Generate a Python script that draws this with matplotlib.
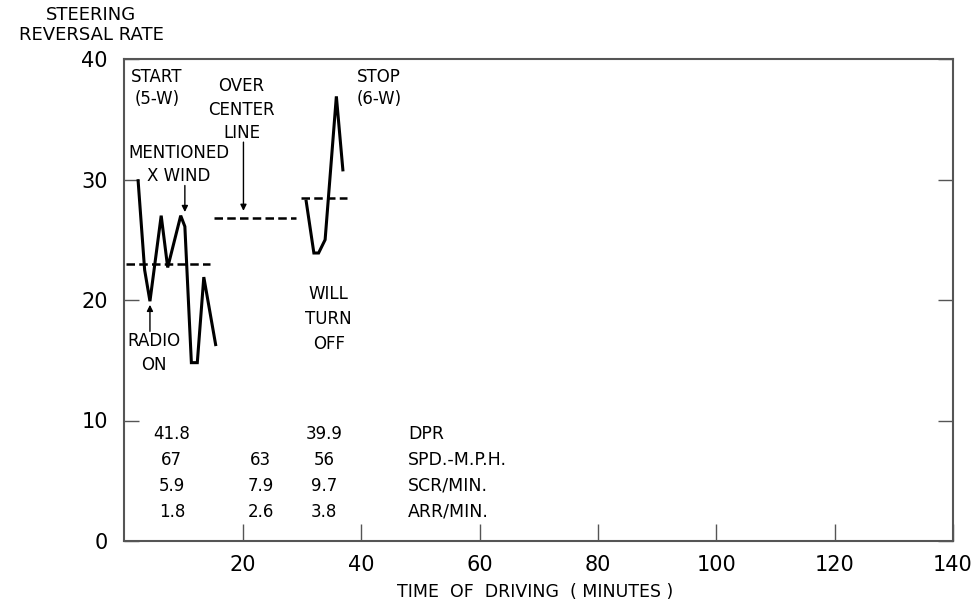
import matplotlib
matplotlib.use("Agg")
import matplotlib.pyplot as plt

# steering reversal rate, three driving segments
seg1_x = [2.3, 3.4, 4.3, 6.2, 7.3, 9.5, 10.2, 11.3, 12.3, 13.4, 15.4]
seg1_y = [29.9, 22.5, 19.9, 27.0, 22.7, 27.0, 26.1, 14.8, 14.8, 21.9, 16.3]
seg3_x = [30.7, 32.0, 32.8, 33.9, 35.8, 36.9]
seg3_y = [28.2, 23.9, 23.9, 25.0, 36.9, 30.8]

# segment means (dashed)
mean_x = [[0.3, 14.4], [15.1, 29.0], [29.8, 37.6]]
mean_y = [23.0, 26.8, 28.5]

# table under the curves
table_cols = [8.0, 23.0, 33.7]
table_rows = ["DPR", "SPD.-M.P.H.", "SCR/MIN.", "ARR/MIN."]
table_vals = [["41.8", "", "39.9"],
              ["67", "63", "56"],
              ["5.9", "7.9", "9.7"],
              ["1.8", "2.6", "3.8"]]
table_y = [8.9, 6.75, 4.57, 2.41]

xticks = [20, 40, 60, 80, 100, 120, 140]
xtick_labels = ["20", "40", "60", "80", "100", "120", "140"]
yticks = [0, 10, 20, 30, 40]

spine_col = "#555555"

fig = plt.figure(figsize=(9.79, 6.07), dpi=100)
ax = fig.add_axes([124.5/979, 1 - 541/607, (953 - 124.5)/979, (541 - 59)/607])

ax.plot(seg1_x, seg1_y, color="black", lw=2.2, solid_joinstyle="miter")
ax.plot(seg3_x, seg3_y, color="black", lw=2.2, solid_joinstyle="miter")
for xs, y in zip(mean_x, mean_y):
    ax.plot(xs, [y, y], color="black", lw=1.8, linestyle=(0, (3.4, 1.7)))

ax.set_xlim(0, 140)
ax.set_ylim(0, 40)
ax.set_xticks(xticks)
ax.set_xticklabels(xtick_labels)
ax.set_yticks(yticks)
ax.tick_params(axis="x", direction="in", length=12, width=1, color=spine_col,
               labelsize=15, pad=10)
ax.tick_params(axis="y", direction="in", length=11, width=1, color=spine_col,
               labelsize=15, pad=12, right=True)
for s in ax.spines.values():
    s.set_color(spine_col)
    s.set_linewidth(1.5)

# annotations
fs = 12
ax.text(5.5, 37.6, "START\n(5-W)", ha="center", va="center", fontsize=fs, linespacing=1.32)
ax.text(19.8, 35.8, "OVER\nCENTER\nLINE", ha="center", va="center", fontsize=fs, linespacing=1.38)
ax.text(9.2, 31.25, "MENTIONED\nX WIND", ha="center", va="center", fontsize=fs, linespacing=1.4)
ax.text(43.0, 37.6, "STOP\n(6-W)", ha="center", va="center", fontsize=fs, linespacing=1.32)
ax.text(34.5, 18.4, "WILL\nTURN\nOFF", ha="center", va="center", fontsize=fs, linespacing=1.5)
ax.text(4.9, 15.6, "RADIO\nON", ha="center", va="center", fontsize=fs, linespacing=1.38)

arrow = dict(arrowstyle="-|>", color="black", lw=1, mutation_scale=9, shrinkA=0, shrinkB=0)
ax.annotate("", xy=(10.2, 27.3), xytext=(10.2, 29.5), arrowprops=arrow)
ax.annotate("", xy=(20.1, 27.4), xytext=(20.1, 33.1), arrowprops=arrow)
ax.annotate("", xy=(4.3, 19.6), xytext=(4.3, 17.4), arrowprops=arrow)

for vals, lab, y in zip(table_vals, table_rows, table_y):
    for v, x in zip(vals, table_cols):
        ax.text(x, y, v, ha="center", va="center", fontsize=fs)
    ax.text(47.9, y, lab, ha="left", va="center", fontsize=12.5)

fig.text(91/979, 1 - 25/607, "STEERING\nREVERSAL RATE", ha="center", va="center",
         fontsize=13, linespacing=1.2)
fig.text(535/979, 1 - 592/607, "TIME  OF  DRIVING  ( MINUTES )", ha="center", va="center",
         fontsize=12.5)

fig.savefig("out.png", dpi=100)
